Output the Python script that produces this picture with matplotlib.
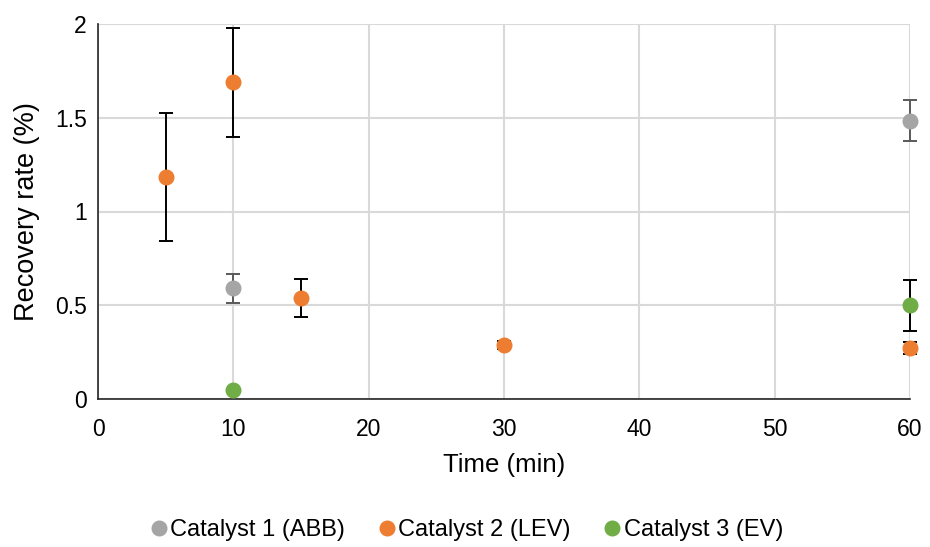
import matplotlib
matplotlib.use("Agg")
import matplotlib.pyplot as plt

plt.rcParams['font.family'] = ['Liberation Sans', 'DejaVu Sans']

series = ["Catalyst 1 (ABB)", "Catalyst 2 (LEV)", "Catalyst 3 (EV)"]
colors = ["#a5a5a5", "#ed7d31", "#70ad47"]
err_colors = ["#595959", "black", "black"]

c1_time = [10, 60]
c1_val = [0.59, 1.485]
c1_err = [0.077, 0.11]

c2_time = [5, 10, 15, 30, 60]
c2_val = [1.183, 1.69, 0.539, 0.288, 0.272]
c2_err = [0.343, 0.29, 0.1, 0.02, 0.03]

c3_time = [10, 60]
c3_val = [0.048, 0.50]
c3_err = [0.0, 0.135]

x_ticks = [0, 10, 20, 30, 40, 50, 60]
y_ticks = [0, 0.5, 1, 1.5, 2]
y_tick_labels = ["0", "0.5", "1", "1.5", "2"]

fig = plt.figure(figsize=(9.3, 5.47), dpi=100)
ax = fig.add_axes([98/930, 1-399/547, (910-98)/930, (399-24)/547])

data = [(c1_time, c1_val, c1_err), (c2_time, c2_val, c2_err), (c3_time, c3_val, c3_err)]
for (t, v, e), name, col, ecol in zip(data, series, colors, err_colors):
    eb = ax.errorbar(t, v, yerr=e, fmt='none', ecolor=ecol, elinewidth=1.4,
                     capsize=5, capthick=1.4, zorder=3)
    for art in eb.lines[1] + eb.lines[2]:
        art.set_clip_on(False)
    ax.plot(t, v, 'o', color=col, markersize=10.5, label=name, zorder=4,
            linestyle='none', clip_on=False)

ax.set_xlim(0, 60)
ax.set_ylim(0, 2)
ax.set_xticks(x_ticks)
ax.set_yticks(y_ticks)
ax.set_yticklabels(y_tick_labels)
ax.grid(True, color="#d9d9d9", linewidth=1.5, zorder=0)
ax.set_axisbelow(True)
for s in ['top', 'right']:
    ax.spines[s].set_visible(False)
ax.spines['left'].set_color('#262626')
ax.spines['bottom'].set_color('#262626')
ax.spines['left'].set_linewidth(1.2)
ax.spines['bottom'].set_linewidth(1.2)
ax.tick_params(length=0, labelsize=16.5, colors='black')
ax.tick_params(axis='x', pad=14)
ax.tick_params(axis='y', pad=8)
ax.set_xlabel("Time (min)", fontsize=18.5, labelpad=8)
ax.set_ylabel("Recovery rate (%)", fontsize=19.5, labelpad=11)

fig.legend(loc='center', bbox_to_anchor=(0.5, 1-530/547), ncol=3,
           frameon=False, fontsize=17, handletextpad=0.0, columnspacing=1.25,
           markerscale=1.0, handlelength=1.0)

fig.savefig("out.png", dpi=100)
